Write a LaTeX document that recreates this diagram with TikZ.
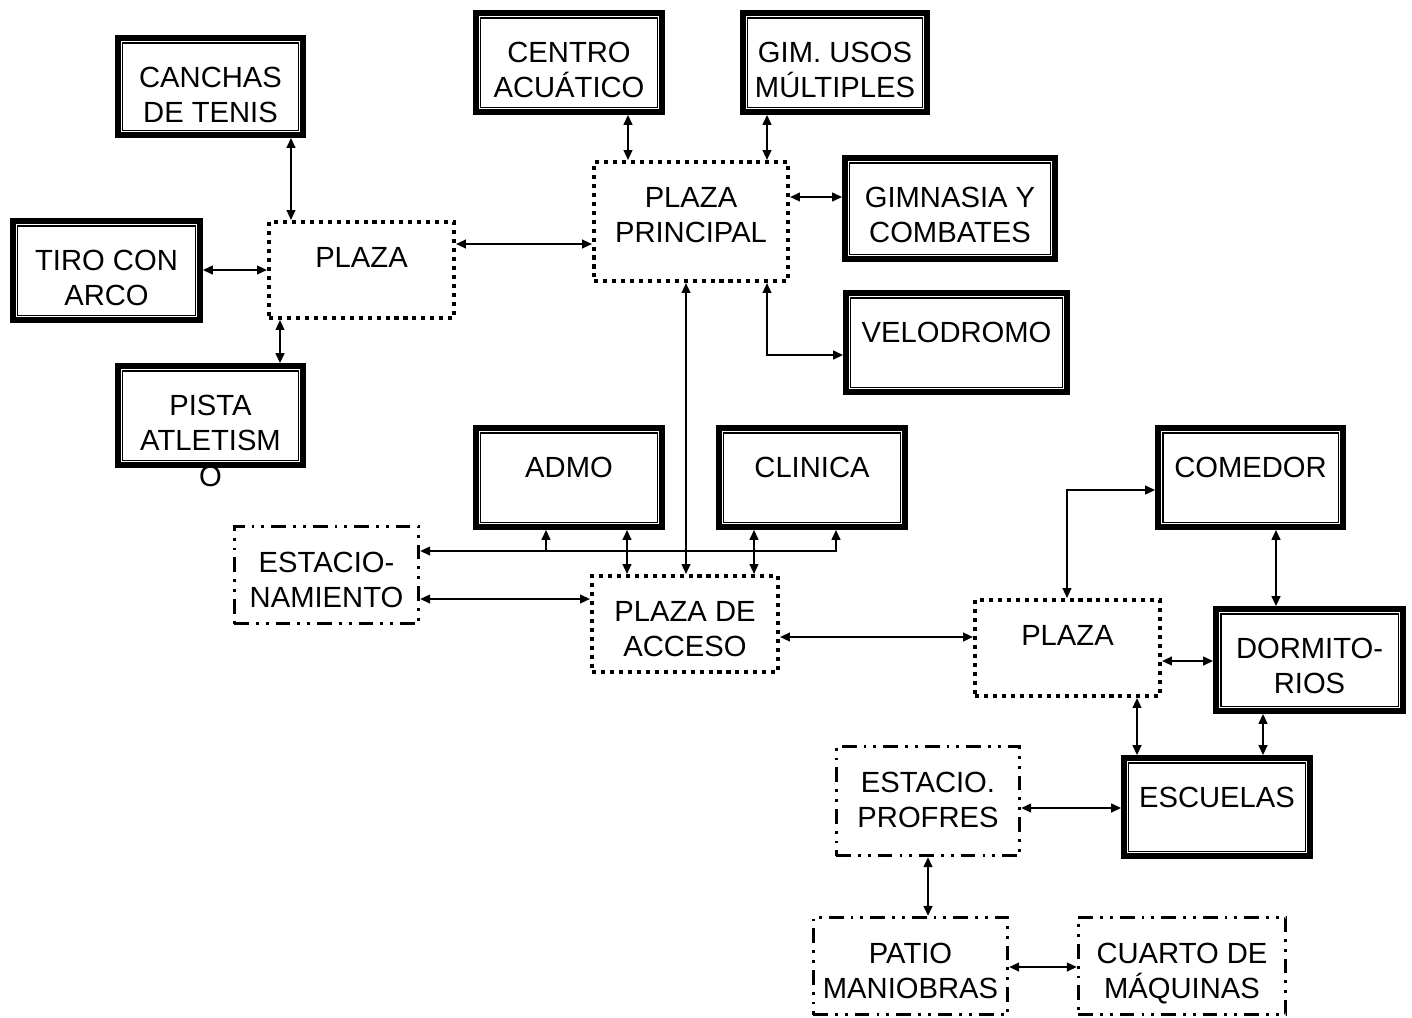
\documentclass[tikz,border=0pt]{standalone}
\usepackage{fontspec}
\setmainfont{Liberation Sans}
\usetikzlibrary{arrows.meta}
\tikzset{
  texto/.style={anchor=north, inner sep=0pt, align=center,
    font=\fontsize{8.3}{10}\selectfont},
  edificio/.style={rectangle, draw, line width=1.65pt, inner sep=0pt,
    path picture={\draw[line width=0.35pt]
      ([shift={(1.4pt,-1.4pt)}]path picture bounding box.north west) rectangle
      ([shift={(-1.4pt,1.4pt)}]path picture bounding box.south east);},
    label={[texto, yshift=-0.315cm]north:#1}},
  plaza/.style={rectangle, draw, line width=1.15pt, inner sep=0pt,
    dash pattern=on 1.15pt off 1.4pt,
    label={[texto, yshift=-0.265cm]north:#1}},
  estac/.style={rectangle, draw, line width=0.8pt, inner sep=0pt,
    dash pattern=on 4.2pt off 2pt on 0.8pt off 2pt on 0.8pt off 2pt,
    label={[texto, yshift=-0.265cm]north:#1}},
  flecha/.style={{Triangle[length=2.8pt,width=2.5pt]}-{Triangle[length=2.8pt,width=2.5pt]},
    line width=0.45pt},
  ramal/.style={-{Triangle[length=2.8pt,width=2.5pt]}, line width=0.45pt}
}

\begin{document}
\begin{tikzpicture}[x=0.01cm, y=-0.01cm]
  \useasboundingbox (0,0) rectangle (1412,1017);

  % --- zona deportiva ---
  \node[edificio={CANCHAS\\DE TENIS}, minimum width=1.85cm, minimum height=0.97cm] (canchas) at (210.5,86.5) {};
  \node[edificio={TIRO CON\\ARCO}, minimum width=1.87cm, minimum height=0.99cm] (tiro) at (106.5,270.5) {};
  \node[edificio={PISTA\\ATLETISM\\O}, minimum width=1.85cm, minimum height=0.99cm] (pista) at (210.5,415.5) {};
  \node[plaza={PLAZA}, minimum width=1.85cm, minimum height=0.96cm] (plazaA) at (361.5,270) {};
  \node[edificio={CENTRO\\ACUÁTICO}, minimum width=1.86cm, minimum height=0.99cm] (centro) at (569,62.5) {};
  \node[edificio={GIM. USOS\\MÚLTIPLES}, minimum width=1.84cm, minimum height=0.99cm] (gim) at (835,62.5) {};
  \node[plaza={PLAZA\\PRINCIPAL}, minimum width=1.94cm, minimum height=1.19cm] (plazaP) at (691,221.5) {};
  \node[edificio={GIMNASIA Y\\COMBATES}, minimum width=2.10cm, minimum height=1.01cm] (gimnasia) at (950,208.5) {};
  \node[edificio={VELODROMO}, minimum width=2.21cm, minimum height=0.99cm] (velodromo) at (956.5,342.5) {};

  % --- acceso ---
  \node[edificio={ADMO}, minimum width=1.86cm, minimum height=0.99cm] (admo) at (569,477.5) {};
  \node[edificio={CLINICA}, minimum width=1.86cm, minimum height=0.99cm] (clinica) at (812,477.5) {};
  \node[estac={ESTACIO-\\NAMIENTO}, minimum width=1.845cm, minimum height=0.975cm] (estac) at (326.5,575) {};
  \node[plaza={PLAZA DE\\ACCESO}, minimum width=1.86cm, minimum height=0.96cm] (plazaAcc) at (685,624) {};

  % --- zona de residencia ---
  \node[edificio={COMEDOR}, minimum width=1.85cm, minimum height=0.99cm] (comedor) at (1250.5,477.5) {};
  \node[plaza={PLAZA}, minimum width=1.85cm, minimum height=0.96cm] (plazaB) at (1067.5,648) {};
  \node[edificio={DORMITO-\\RIOS}, minimum width=1.87cm, minimum height=1.02cm] (dorm) at (1309.5,660) {};
  \node[edificio={ESCUELAS}, minimum width=1.86cm, minimum height=0.98cm] (escuelas) at (1217,807) {};
  \node[estac={ESTACIO.\\PROFRES}, minimum width=1.835cm, minimum height=1.095cm] (estacProf) at (928,801) {};
  \node[estac={PATIO\\MANIOBRAS}, minimum width=1.945cm, minimum height=0.975cm] (patio) at (910.5,966) {};
  \node[estac={CUARTO DE\\MÁQUINAS}, minimum width=2.075cm, minimum height=0.975cm] (cuarto) at (1182,966) {};

  % --- conexiones ---
  \draw[flecha] (canchas.south -| 291,0) -- (plazaA.north -| 291,0);
  \draw[flecha] (tiro.east |- 0,270) -- (plazaA.west |- 0,270);
  \draw[flecha] (plazaA.south -| 280,0) -- (pista.north -| 280,0);
  \draw[flecha] (plazaA.east |- 0,244) -- (plazaP.west |- 0,244);
  \draw[flecha] (centro.south -| 628,0) -- (plazaP.north -| 628,0);
  \draw[flecha] (gim.south -| 767,0) -- (plazaP.north -| 767,0);
  \draw[flecha] (plazaP.east |- 0,197) -- (gimnasia.west |- 0,197);
  \draw[flecha] (plazaP.south -| 767,0) |- (velodromo.west |- 0,355);
  \draw[flecha] (plazaP.south -| 686,0) -- (plazaAcc.north -| 686,0);

  \draw[flecha] (admo.south -| 627,0) -- (plazaAcc.north -| 627,0);
  \draw[flecha] (clinica.south -| 754,0) -- (plazaAcc.north -| 754,0);
  \draw[flecha] (clinica.south -| 836,0) |- (estac.east |- 0,551);
  \coordinate (ramal) at (546,551);
  \draw[ramal] (ramal) -- (admo.south -| ramal);
  \draw[flecha] (estac.east |- 0,599) -- (plazaAcc.west |- 0,599);
  \draw[flecha] (plazaAcc.east |- 0,637) -- (plazaB.west |- 0,637);

  \draw[flecha] (plazaB.north -| 1067,0) |- (comedor.west |- 0,490);
  \draw[flecha] (comedor.south -| 1276,0) -- (dorm.north -| 1276,0);
  \draw[flecha] (plazaB.east |- 0,661) -- (dorm.west |- 0,661);
  \draw[flecha] (plazaB.south -| 1137,0) -- (escuelas.north -| 1137,0);
  \draw[flecha] (dorm.south -| 1263,0) -- (escuelas.north -| 1263,0);
  \draw[flecha] (estacProf.east |- 0,808) -- (escuelas.west |- 0,808);
  \draw[flecha] (estacProf.south -| 928,0) -- (patio.north -| 928,0);
  \draw[flecha] (patio.east |- 0,967) -- (cuarto.west |- 0,967);

\end{tikzpicture}
\end{document}
